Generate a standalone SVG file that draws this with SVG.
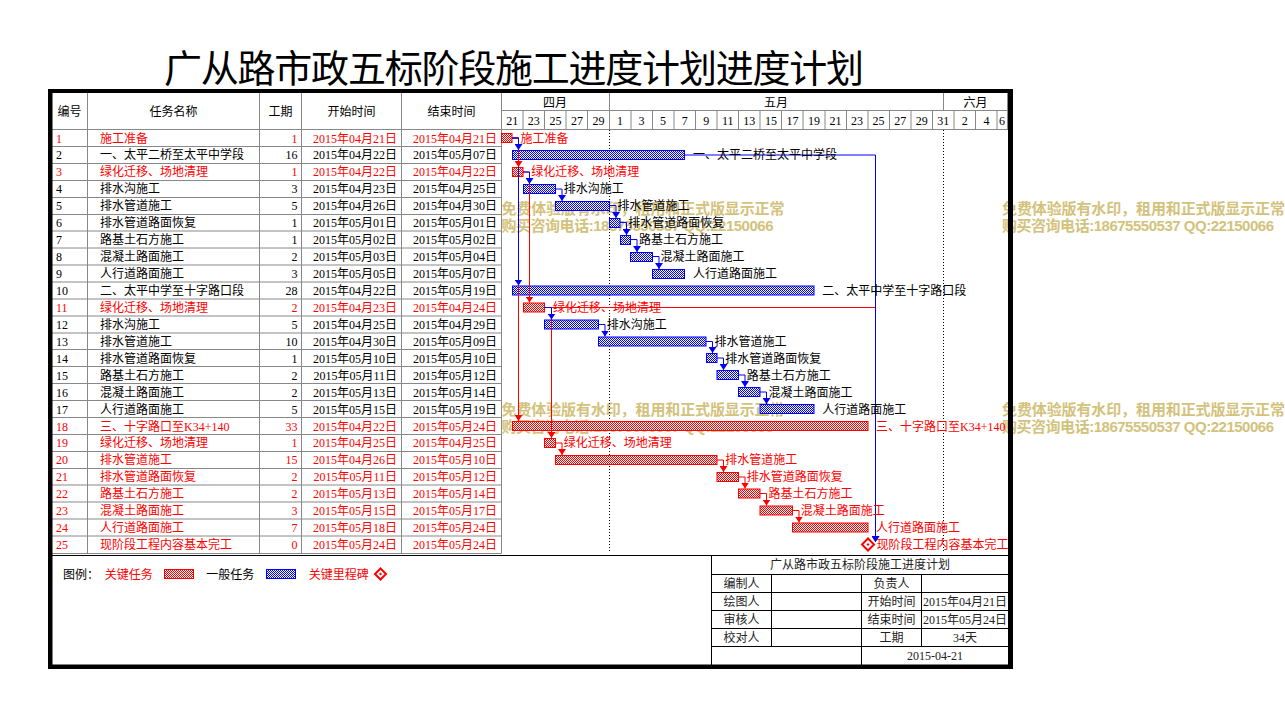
<svg xmlns="http://www.w3.org/2000/svg" width="1285" height="716" viewBox="0 0 1285 716">
<style>
text{font-family:"Liberation Serif","Noto Sans CJK SC",serif;font-size:12px;fill:#000}
.rd text,text.rd{fill:#f00}
.e{text-anchor:end}
.m{text-anchor:middle}
.g{stroke:#888;stroke-width:1;fill:none}
.k{stroke:#000;stroke-width:1;fill:none}
.dot{stroke:#000;stroke-width:1;stroke-dasharray:1 2;fill:none}
.bb{fill:url(#chkB);stroke:#00f;stroke-width:1}
.br{fill:url(#chkR);stroke:#f00;stroke-width:1}
.cb{stroke:#00f;stroke-width:1;fill:none;marker-end:url(#aB)}
.cr{stroke:#f00;stroke-width:1;fill:none;marker-end:url(#aR)}
text.wm{font-family:"Liberation Sans","Noto Sans CJK SC",sans-serif;font-size:15px;font-weight:bold;fill:#d3c27c}
text.ttl{font-family:"Noto Sans CJK SC",sans-serif;font-size:38px}
.tb text{fill:#222}
</style>
<defs>
<pattern id="chkB" width="2" height="2" patternUnits="userSpaceOnUse"><rect width="2" height="2" fill="#fff"/><rect width="1" height="1" fill="#00f"/><rect x="1" y="1" width="1" height="1" fill="#00f"/></pattern>
<pattern id="chkR" width="2" height="2" patternUnits="userSpaceOnUse"><rect width="2" height="2" fill="#fff"/><rect width="1" height="1" fill="#f00"/><rect x="1" y="1" width="1" height="1" fill="#f00"/></pattern>
<marker id="aB" viewBox="0 0 6 8" refX="6" refY="4" markerWidth="6" markerHeight="8" markerUnits="userSpaceOnUse" orient="auto"><path d="M0,0L6,4L0,8z" fill="#00f"/></marker>
<marker id="aR" viewBox="0 0 6 8" refX="6" refY="4" markerWidth="6" markerHeight="8" markerUnits="userSpaceOnUse" orient="auto"><path d="M0,0L6,4L0,8z" fill="#f00"/></marker>
</defs>
<rect width="1285" height="716" fill="#fff"/>

<text class="ttl m" x="514" y="82" textLength="700">广从路市政五标阶段施工进度计划进度计划</text>

<g id="watermark">
<text class="wm" x="501.5" y="214" textLength="283">免费体验版有水印，租用和正式版显示正常</text>
<text class="wm" x="501.5" y="231" textLength="272">购买咨询电话:18675550537 QQ:22150066</text>
<text class="wm" x="1002" y="214" textLength="283">免费体验版有水印，租用和正式版显示正常</text>
<text class="wm" x="1002" y="231" textLength="272">购买咨询电话:18675550537 QQ:22150066</text>
<text class="wm" x="501.5" y="415" textLength="283">免费体验版有水印，租用和正式版显示正常</text>
<text class="wm" x="501.5" y="432" textLength="272">购买咨询电话:18675550537 QQ:22150066</text>
<text class="wm" x="1002" y="415" textLength="283">免费体验版有水印，租用和正式版显示正常</text>
<text class="wm" x="1002" y="432" textLength="272">购买咨询电话:18675550537 QQ:22150066</text>
</g>

<g id="grid">
<path class="g" d="M87.5,93V553M259.5,93V553M301.5,93V553M401.5,93V553M501.5,93V553"/>
<path class="g" d="M52,129.5H1008M52,146.5H501.5M52,163.5H501.5M52,180.5H501.5M52,197.5H501.5M52,214.5H501.5M52,231H501.5M52,248H501.5M52,265H501.5M52,282H501.5M52,299H501.5M52,316H501.5M52,333H501.5M52,349.5H501.5M52,366.5H501.5M52,383.5H501.5M52,400.5H501.5M52,417.5H501.5M52,434.5H501.5M52,451.5H501.5M52,468.5H501.5M52,485H501.5M52,502H501.5M52,519H501.5M52,536H501.5M52,553.5H501.5"/>
<path class="g" d="M501.5,110.5H1007.5M609.5,93V129.5M943.5,93V110.5M1007.5,93V129.5"/>
<path class="g" d="M523,110.5V129.5M544.5,110.5V129.5M566,110.5V129.5M587.5,110.5V129.5M631,110.5V129.5M652.5,110.5V129.5M674,110.5V129.5M695.5,110.5V129.5M717,110.5V129.5M738.5,110.5V129.5M760,110.5V129.5M781.5,110.5V129.5M803,110.5V129.5M825,110.5V129.5M846.5,110.5V129.5M868,110.5V129.5M889.5,110.5V129.5M911,110.5V129.5M932.5,110.5V129.5M954,110.5V129.5M975.5,110.5V129.5M997,110.5V129.5"/>
<path class="dot" d="M609.5,130V553M943.5,130V553"/>
</g>

<g id="header">
<text class="m" x="69.5" y="115.5">编号</text>
<text class="m" x="173.5" y="115.5">任务名称</text>
<text class="m" x="280.5" y="115.5">工期</text>
<text class="m" x="351.5" y="115.5">开始时间</text>
<text class="m" x="451.5" y="115.5">结束时间</text>
<text class="m" x="555" y="106.5">四月</text>
<text class="m" x="776" y="106.5">五月</text>
<text class="m" x="975.5" y="106.5">六月</text>
<text class="m" x="512.3" y="124.5">21</text>
<text class="m" x="533.8" y="124.5">23</text>
<text class="m" x="555.4" y="124.5">25</text>
<text class="m" x="576.9" y="124.5">27</text>
<text class="m" x="598.5" y="124.5">29</text>
<text class="m" x="620" y="124.5">1</text>
<text class="m" x="641.6" y="124.5">3</text>
<text class="m" x="663.1" y="124.5">5</text>
<text class="m" x="684.7" y="124.5">7</text>
<text class="m" x="706.2" y="124.5">9</text>
<text class="m" x="727.8" y="124.5">11</text>
<text class="m" x="749.3" y="124.5">13</text>
<text class="m" x="770.9" y="124.5">15</text>
<text class="m" x="792.4" y="124.5">17</text>
<text class="m" x="814" y="124.5">19</text>
<text class="m" x="835.5" y="124.5">21</text>
<text class="m" x="857" y="124.5">23</text>
<text class="m" x="878.6" y="124.5">25</text>
<text class="m" x="900.2" y="124.5">27</text>
<text class="m" x="921.7" y="124.5">29</text>
<text class="m" x="943.3" y="124.5">31</text>
<text class="m" x="964.8" y="124.5">2</text>
<text class="m" x="986.4" y="124.5">4</text>
<text class="m" x="1002" y="124.5">6</text>
</g>

<g id="table">
<g id="row-1" class="rd"><text x="56" y="142.5">1</text><text x="100" y="142.5">施工准备</text><text class="e" x="297.5" y="142.5">1</text><text class="e" x="397" y="142.5">2015年04月21日</text><text class="e" x="497" y="142.5">2015年04月21日</text></g>
<g id="row-2"><text x="56" y="159.4">2</text><text x="100" y="159.4">一、太平二桥至太平中学段</text><text class="e" x="297.5" y="159.4">16</text><text class="e" x="397" y="159.4">2015年04月22日</text><text class="e" x="497" y="159.4">2015年05月07日</text></g>
<g id="row-3" class="rd"><text x="56" y="176.4">3</text><text x="100" y="176.4">绿化迁移、场地清理</text><text class="e" x="297.5" y="176.4">1</text><text class="e" x="397" y="176.4">2015年04月22日</text><text class="e" x="497" y="176.4">2015年04月22日</text></g>
<g id="row-4"><text x="56" y="193.3">4</text><text x="100" y="193.3">排水沟施工</text><text class="e" x="297.5" y="193.3">3</text><text class="e" x="397" y="193.3">2015年04月23日</text><text class="e" x="497" y="193.3">2015年04月25日</text></g>
<g id="row-5"><text x="56" y="210.2">5</text><text x="100" y="210.2">排水管道施工</text><text class="e" x="297.5" y="210.2">5</text><text class="e" x="397" y="210.2">2015年04月26日</text><text class="e" x="497" y="210.2">2015年04月30日</text></g>
<g id="row-6"><text x="56" y="227.2">6</text><text x="100" y="227.2">排水管道路面恢复</text><text class="e" x="297.5" y="227.2">1</text><text class="e" x="397" y="227.2">2015年05月01日</text><text class="e" x="497" y="227.2">2015年05月01日</text></g>
<g id="row-7"><text x="56" y="244.1">7</text><text x="100" y="244.1">路基土石方施工</text><text class="e" x="297.5" y="244.1">1</text><text class="e" x="397" y="244.1">2015年05月02日</text><text class="e" x="497" y="244.1">2015年05月02日</text></g>
<g id="row-8"><text x="56" y="261">8</text><text x="100" y="261">混凝土路面施工</text><text class="e" x="297.5" y="261">2</text><text class="e" x="397" y="261">2015年05月03日</text><text class="e" x="497" y="261">2015年05月04日</text></g>
<g id="row-9"><text x="56" y="278">9</text><text x="100" y="278">人行道路面施工</text><text class="e" x="297.5" y="278">3</text><text class="e" x="397" y="278">2015年05月05日</text><text class="e" x="497" y="278">2015年05月07日</text></g>
<g id="row-10"><text x="56" y="294.9">10</text><text x="100" y="294.9">二、太平中学至十字路口段</text><text class="e" x="297.5" y="294.9">28</text><text class="e" x="397" y="294.9">2015年04月22日</text><text class="e" x="497" y="294.9">2015年05月19日</text></g>
<g id="row-11" class="rd"><text x="56" y="311.9">11</text><text x="100" y="311.9">绿化迁移、场地清理</text><text class="e" x="297.5" y="311.9">2</text><text class="e" x="397" y="311.9">2015年04月23日</text><text class="e" x="497" y="311.9">2015年04月24日</text></g>
<g id="row-12"><text x="56" y="328.8">12</text><text x="100" y="328.8">排水沟施工</text><text class="e" x="297.5" y="328.8">5</text><text class="e" x="397" y="328.8">2015年04月25日</text><text class="e" x="497" y="328.8">2015年04月29日</text></g>
<g id="row-13"><text x="56" y="345.8">13</text><text x="100" y="345.8">排水管道施工</text><text class="e" x="297.5" y="345.8">10</text><text class="e" x="397" y="345.8">2015年04月30日</text><text class="e" x="497" y="345.8">2015年05月09日</text></g>
<g id="row-14"><text x="56" y="362.7">14</text><text x="100" y="362.7">排水管道路面恢复</text><text class="e" x="297.5" y="362.7">1</text><text class="e" x="397" y="362.7">2015年05月10日</text><text class="e" x="497" y="362.7">2015年05月10日</text></g>
<g id="row-15"><text x="56" y="379.6">15</text><text x="100" y="379.6">路基土石方施工</text><text class="e" x="297.5" y="379.6">2</text><text class="e" x="397" y="379.6">2015年05月11日</text><text class="e" x="497" y="379.6">2015年05月12日</text></g>
<g id="row-16"><text x="56" y="396.6">16</text><text x="100" y="396.6">混凝土路面施工</text><text class="e" x="297.5" y="396.6">2</text><text class="e" x="397" y="396.6">2015年05月13日</text><text class="e" x="497" y="396.6">2015年05月14日</text></g>
<g id="row-17"><text x="56" y="413.5">17</text><text x="100" y="413.5">人行道路面施工</text><text class="e" x="297.5" y="413.5">5</text><text class="e" x="397" y="413.5">2015年05月15日</text><text class="e" x="497" y="413.5">2015年05月19日</text></g>
<g id="row-18" class="rd"><text x="56" y="430.5">18</text><text x="100" y="430.5">三、十字路口至K34+140</text><text class="e" x="297.5" y="430.5">33</text><text class="e" x="397" y="430.5">2015年04月22日</text><text class="e" x="497" y="430.5">2015年05月24日</text></g>
<g id="row-19" class="rd"><text x="56" y="447.4">19</text><text x="100" y="447.4">绿化迁移、场地清理</text><text class="e" x="297.5" y="447.4">1</text><text class="e" x="397" y="447.4">2015年04月25日</text><text class="e" x="497" y="447.4">2015年04月25日</text></g>
<g id="row-20" class="rd"><text x="56" y="464.3">20</text><text x="100" y="464.3">排水管道施工</text><text class="e" x="297.5" y="464.3">15</text><text class="e" x="397" y="464.3">2015年04月26日</text><text class="e" x="497" y="464.3">2015年05月10日</text></g>
<g id="row-21" class="rd"><text x="56" y="481.3">21</text><text x="100" y="481.3">排水管道路面恢复</text><text class="e" x="297.5" y="481.3">2</text><text class="e" x="397" y="481.3">2015年05月11日</text><text class="e" x="497" y="481.3">2015年05月12日</text></g>
<g id="row-22" class="rd"><text x="56" y="498.2">22</text><text x="100" y="498.2">路基土石方施工</text><text class="e" x="297.5" y="498.2">2</text><text class="e" x="397" y="498.2">2015年05月13日</text><text class="e" x="497" y="498.2">2015年05月14日</text></g>
<g id="row-23" class="rd"><text x="56" y="515.2">23</text><text x="100" y="515.2">混凝土路面施工</text><text class="e" x="297.5" y="515.2">3</text><text class="e" x="397" y="515.2">2015年05月15日</text><text class="e" x="497" y="515.2">2015年05月17日</text></g>
<g id="row-24" class="rd"><text x="56" y="532.1">24</text><text x="100" y="532.1">人行道路面施工</text><text class="e" x="297.5" y="532.1">7</text><text class="e" x="397" y="532.1">2015年05月18日</text><text class="e" x="497" y="532.1">2015年05月24日</text></g>
<g id="row-25" class="rd"><text x="56" y="549">25</text><text x="100" y="549">现阶段工程内容基本完工</text><text class="e" x="297.5" y="549">0</text><text class="e" x="397" y="549">2015年05月24日</text><text class="e" x="497" y="549">2015年05月24日</text></g>
</g>

<g id="bars">
<g id="task-1"><rect class="br" x="501.5" y="133.5" width="10.5" height="9"/></g>
<g id="task-2"><rect class="bb" x="512.5" y="150.5" width="172" height="9"/></g>
<g id="task-3"><rect class="br" x="512.5" y="167.5" width="10.5" height="9"/></g>
<g id="task-4"><rect class="bb" x="523.5" y="184.5" width="32" height="9"/></g>
<g id="task-5"><rect class="bb" x="555.5" y="201.5" width="54" height="9"/></g>
<g id="task-6"><rect class="bb" x="609.5" y="218.5" width="10.5" height="9"/></g>
<g id="task-7"><rect class="bb" x="620.5" y="235.5" width="10" height="9"/></g>
<g id="task-8"><rect class="bb" x="630.5" y="252.5" width="22" height="9"/></g>
<g id="task-9"><rect class="bb" x="652.5" y="269.5" width="32" height="9"/></g>
<g id="task-10"><rect class="bb" x="512.5" y="286" width="301.5" height="9"/></g>
<g id="task-11"><rect class="br" x="523.5" y="303" width="21" height="9"/></g>
<g id="task-12"><rect class="bb" x="544.5" y="320" width="54" height="9"/></g>
<g id="task-13"><rect class="bb" x="598.5" y="337" width="107.5" height="9"/></g>
<g id="task-14"><rect class="bb" x="706.5" y="353.5" width="10.5" height="9"/></g>
<g id="task-15"><rect class="bb" x="717" y="370.5" width="21.5" height="9"/></g>
<g id="task-16"><rect class="bb" x="738.5" y="387.5" width="21.5" height="9"/></g>
<g id="task-17"><rect class="bb" x="760" y="404.5" width="54" height="9"/></g>
<g id="task-18"><rect class="br" x="512.5" y="421.5" width="355.5" height="9"/></g>
<g id="task-19"><rect class="br" x="544.5" y="438.5" width="11" height="9"/></g>
<g id="task-20"><rect class="br" x="555.5" y="455.5" width="161.5" height="9"/></g>
<g id="task-21"><rect class="br" x="717" y="472.5" width="21.5" height="9"/></g>
<g id="task-22"><rect class="br" x="738.5" y="489" width="21.5" height="9"/></g>
<g id="task-23"><rect class="br" x="760" y="506" width="32.5" height="9"/></g>
<g id="task-24"><rect class="br" x="792.5" y="523" width="75.5" height="9"/></g>
<g id="task-25"><path d="M868,538.5L874,544.5L868,550.5L862,544.5Z" fill="#fff" stroke="#f00" stroke-width="2"/><path d="M868,543L869.5,544.5L868,546L866.5,544.5Z" fill="#f00"/></g>
</g>

<g id="connectors">
<path class="cr" d="M512,138H518.5V421"/>
<path class="cb" d="M512,138H518.5V285.5"/>
<path class="cr" d="M512,138H518.5V167"/>
<path class="cb" d="M512,138H518.5V150"/>
<path class="cr" d="M523,172H529.5V302.5"/>
<path class="cb" d="M523,172H529.5V184"/>
<path class="cb" d="M555.5,189H562V201"/>
<path class="cb" d="M609.5,205.5H616V218"/>
<path class="cb" d="M620,222.5H626.5V235"/>
<path class="cb" d="M630.5,239.5H637V252"/>
<path class="cb" d="M652.5,256.5H659V269"/>
<path class="cr" d="M544.5,307.5H875.5V542"/>
<path class="cr" d="M544.5,307.5H551.5V438"/>
<path class="cb" d="M684.5,155H875.5V542"/>
<path class="cb" d="M544.5,307.5H551.5V319.5"/>
<path class="cb" d="M598.5,324.5H605V336.5"/>
<path class="cb" d="M706,341.5H712.5V353"/>
<path class="cb" d="M717,358H723.5V370"/>
<path class="cb" d="M738.5,375H745V387"/>
<path class="cb" d="M760,392H766.5V404"/>
<path class="cr" d="M555.5,443H562V455"/>
<path class="cr" d="M717,460H723.5V472"/>
<path class="cr" d="M738.5,477H745V488.5"/>
<path class="cr" d="M760,493.5H766.5V505.5"/>
<path class="cr" d="M792.5,510.5H799V522.5"/>
</g>

<g id="bar-labels">
<text class="rd" x="520.5" y="142.5">施工准备</text>
<text x="693" y="159.4">一、太平二桥至太平中学段</text>
<text class="rd" x="531.3" y="176.4">绿化迁移、场地清理</text>
<text x="563.7" y="193.3">排水沟施工</text>
<text x="617.5" y="210.2">排水管道施工</text>
<text x="628.3" y="227.2">排水管道路面恢复</text>
<text x="639" y="244.1">路基土石方施工</text>
<text x="660.6" y="261">混凝土路面施工</text>
<text x="693" y="278">人行道路面施工</text>
<text x="822.3" y="294.9">二、太平中学至十字路口段</text>
<text class="rd" x="552.9" y="311.9">绿化迁移、场地清理</text>
<text x="606.8" y="328.8">排水沟施工</text>
<text x="714.5" y="345.8">排水管道施工</text>
<text x="725.3" y="362.7">排水管道路面恢复</text>
<text x="746.8" y="379.6">路基土石方施工</text>
<text x="768.4" y="396.6">混凝土路面施工</text>
<text x="822.3" y="413.5">人行道路面施工</text>
<text class="rd" x="876.1" y="430.5">三、十字路口至K34+140</text>
<text class="rd" x="563.7" y="447.4">绿化迁移、场地清理</text>
<text class="rd" x="725.3" y="464.3">排水管道施工</text>
<text class="rd" x="746.8" y="481.3">排水管道路面恢复</text>
<text class="rd" x="768.4" y="498.2">路基土石方施工</text>
<text class="rd" x="800.7" y="515.2">混凝土路面施工</text>
<text class="rd" x="876.1" y="532.1">人行道路面施工</text>
<text class="rd" x="876.5" y="549">现阶段工程内容基本完工</text>
</g>

<g id="legend">
<text x="63" y="578.5">图例：</text>
<text class="rd" x="104.7" y="578.5">关键任务</text>
<rect class="br" x="164.5" y="569.5" width="29" height="9"/>
<text x="206.3" y="578.5">一般任务</text>
<rect class="bb" x="266.5" y="569.5" width="29" height="9"/>
<text class="rd" x="308.7" y="578.5">关键里程碑</text>
<path d="M380.5,568.5L386,574L380.5,579.5L375,574Z" fill="#fff" stroke="#f00" stroke-width="2"/>
<path d="M380.5,572.5L382,574L380.5,575.5L379,574Z" fill="#f00"/>
</g>

<g id="title-block" class="tb">
<path class="k" d="M52,555.5H1008M711.5,555.5V665M711.5,574.5H1008M711.5,592.5H1008M711.5,610.5H1008M711.5,628.5H1008M711.5,646.5H1008M771.5,574.5V646.5M861.5,574.5V665M921.5,574.5V646.5"/>
<text class="m" x="860" y="569">广从路市政五标阶段施工进度计划</text>
<text class="m" x="741.5" y="588">编制人</text>
<text class="m" x="891.5" y="588">负责人</text>
<text class="m" x="741.5" y="606">绘图人</text>
<text class="m" x="891.5" y="606">开始时间</text>
<text class="m" x="965" y="606">2015年04月21日</text>
<text class="m" x="741.5" y="624">审核人</text>
<text class="m" x="891.5" y="624">结束时间</text>
<text class="m" x="965" y="624">2015年05月24日</text>
<text class="m" x="741.5" y="642">校对人</text>
<text class="m" x="891.5" y="642">工期</text>
<text class="m" x="965" y="642">34天</text>
<text class="m" x="935" y="660">2015-04-21</text>
</g>

<g id="frame" fill="#000">
<rect x="48" y="89" width="965" height="4"/>
<rect x="48" y="89" width="4.5" height="580"/>
<rect x="48" y="664.5" width="965" height="4.5"/>
<rect x="1008" y="89" width="5" height="580"/>
</g>
</svg>
